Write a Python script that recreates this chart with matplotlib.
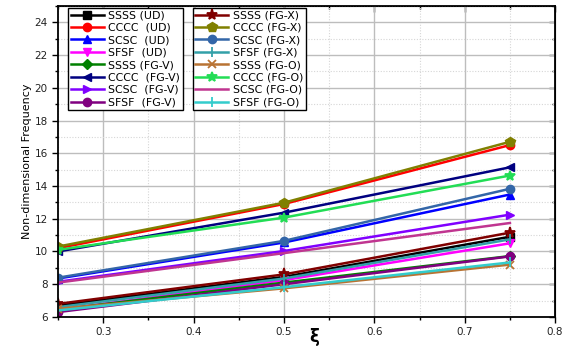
import matplotlib
matplotlib.use("Agg")
import matplotlib.pyplot as plt
from matplotlib.ticker import MultipleLocator

xi = [0.25, 0.5, 0.75]

labels = ["SSSS (UD)", "CCCC  (UD)", "SCSC  (UD)", "SFSF  (UD)",
          "SSSS (FG-V)", "CCCC  (FG-V)", "SCSC  (FG-V)", "SFSF  (FG-V)",
          "SSSS (FG-X)", "CCCC (FG-X)", "SCSC (FG-X)", "SFSF (FG-X)",
          "SSSS (FG-O)", "CCCC (FG-O)", "SCSC (FG-O)", "SFSF (FG-O)"]

ssss_ud = [6.70, 8.45, 10.90]
cccc_ud = [10.20, 12.90, 16.50]
scsc_ud = [8.35, 10.55, 13.48]
sfsf_ud = [6.45, 8.25, 10.50]
ssss_fgv = [6.45, 8.10, 9.72]
cccc_fgv = [10.00, 12.37, 15.14]
scsc_fgv = [8.15, 10.03, 12.25]
sfsf_fgv = [6.30, 8.00, 9.70]
ssss_fgx = [6.80, 8.60, 11.15]
cccc_fgx = [10.30, 12.98, 16.70]
scsc_fgx = [8.40, 10.65, 13.83]
sfsf_fgx = [6.60, 8.35, 10.74]
ssss_fgo = [6.50, 7.75, 9.20]
cccc_fgo = [10.10, 12.07, 14.64]
scsc_fgo = [8.10, 9.90, 11.74]
sfsf_fgo = [6.40, 7.82, 9.33]

series = [ssss_ud, cccc_ud, scsc_ud, sfsf_ud,
          ssss_fgv, cccc_fgv, scsc_fgv, sfsf_fgv,
          ssss_fgx, cccc_fgx, scsc_fgx, sfsf_fgx,
          ssss_fgo, cccc_fgo, scsc_fgo, sfsf_fgo]

colors = ["#000000", "#ff0000", "#0000ff", "#ff00ff",
          "#008000", "#000080", "#8000ff", "#800080",
          "#800000", "#808000", "#3366a8", "#33a0a8",
          "#b87333", "#22dd55", "#c03590", "#33cccc"]
markers = ["s", "o", "^", "v", "D", "<", ">", "o",
           "*", "p", "o", "|", "x", "*", "", "|"]
msizes = [5.5, 6, 6, 6, 5, 6, 6, 6, 8, 7, 6, 7, 6, 7, 6, 7]

fig = plt.figure(figsize=(5.63, 3.47), dpi=100)
ax = fig.add_axes([0.103, 0.0865, 0.883, 0.8965])

handles = []
for y, lab, c, m, ms in zip(series, labels, colors, markers, msizes):
    h, = ax.plot(xi, y, color=c, marker=m if m else None, markersize=ms,
                 linewidth=1.8, label=lab,
                 markeredgewidth=1.3 if m in ("x", "|", "*") else 1,
                 markeredgecolor=c)
    handles.append(h)

ax.set_xlim(0.25, 0.8)
ax.set_ylim(6, 25)
ax.xaxis.set_major_locator(MultipleLocator(0.1))
ax.xaxis.set_minor_locator(MultipleLocator(0.05))
ax.yaxis.set_major_locator(MultipleLocator(2))
ax.yaxis.set_minor_locator(MultipleLocator(1))
ax.grid(which="major", color="#bdbdbd", linewidth=1.0, linestyle="-")
ax.grid(which="minor", color="#d6d6d6", linewidth=0.8, linestyle=(0, (1, 1.5)))
ax.set_axisbelow(True)

ax.tick_params(which="both", direction="out", labelsize=7.5, width=1,
               labelcolor="#222222")
ax.tick_params(which="major", length=4)
ax.tick_params(which="minor", length=2.5)
for sp in ax.spines.values():
    sp.set_linewidth(1.3)

ax.set_xticks([0.3, 0.4, 0.5, 0.6, 0.7, 0.8])
ax.set_xticklabels(["0.3", "0.4", "0.5", "0.6", "0.7", "0.8"])
ax.set_xlim(0.25, 0.8)

# inward ticks on top and right
top = ax.secondary_xaxis("top")
top.xaxis.set_major_locator(MultipleLocator(0.1))
top.xaxis.set_minor_locator(MultipleLocator(0.05))
top.tick_params(which="both", direction="in", labeltop=False, width=1)
top.tick_params(which="major", length=4)
top.tick_params(which="minor", length=2.5)
right = ax.secondary_yaxis("right")
right.yaxis.set_major_locator(MultipleLocator(2))
right.yaxis.set_minor_locator(MultipleLocator(1))
right.tick_params(which="both", direction="in", labelright=False, width=1)
right.tick_params(which="major", length=4)
right.tick_params(which="minor", length=2.5)

ax.set_ylabel("Non-dimensional Frequency", fontsize=8, labelpad=2)
ax.set_xlabel("ξ", fontsize=12, fontweight="bold")
ax.xaxis.set_label_coords(0.515, -0.035)

legkw = dict(loc="upper left", fontsize=7.9, frameon=True, fancybox=False,
             edgecolor="black", handlelength=3.0, labelspacing=0.22,
             borderpad=0.25, handletextpad=0.4, borderaxespad=0,
             framealpha=1)
leg1 = ax.legend(handles=handles[:8], bbox_to_anchor=(0.02, 0.994), **legkw)
leg1.get_frame().set_linewidth(1)
ax.add_artist(leg1)
leg2 = ax.legend(handles=handles[8:], bbox_to_anchor=(0.271, 0.994), **legkw)
leg2.get_frame().set_linewidth(1)

fig.savefig("out.png", dpi=100)
